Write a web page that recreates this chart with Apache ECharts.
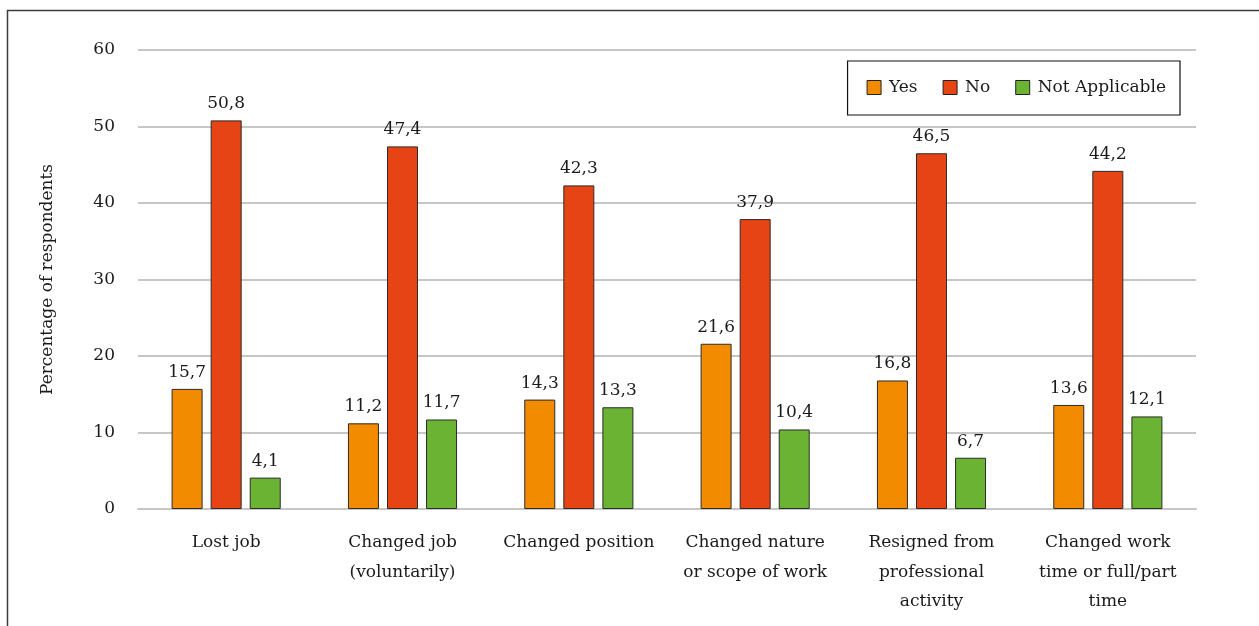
<!DOCTYPE html>
<html><head><meta charset="utf-8">
<script src="https://cdn.jsdelivr.net/npm/echarts@6/dist/echarts.min.js"></script>
<style>html,body{margin:0;padding:0;background:#fff}#c{width:1259px;height:626px}</style>
</head><body><div id="c"></div>
<script>
const categories = ["Lost job", "Changed job\n(voluntarily)", "Changed position", "Changed nature\nor scope of work", "Resigned from\nprofessional\nactivity", "Changed work\ntime or full/part\ntime"];
const yesValues = [15.7, 11.2, 14.3, 21.6, 16.8, 13.6];
const noValues = [50.8, 47.4, 42.3, 37.9, 46.5, 44.2];
const naValues = [4.1, 11.7, 13.3, 10.4, 6.7, 12.1];
const seriesNames = ["Yes", "No", "Not Applicable"];
const yTicks = [0, 10, 20, 30, 40, 50, 60];

const FONT = "DejaVu Serif";
const FS = 17;
const colors = ["#F28B00", "#E64415", "#6AB333"];
const chart = echarts.init(document.getElementById('c'), null, {renderer: 'canvas'});
function mk(name, data, i) {
  return {
    name: name, type: 'bar', data: data, barWidth: 31, barGap: '26%',
    itemStyle: {color: colors[i], borderColor: '#2b2b2b', borderWidth: 1},
    label: {show: true, position: 'top', distance: 8, color: '#1a1a1a', fontFamily: FONT, fontSize: FS,
      formatter: p => String(p.value).replace('.', ',')}
  };
}
chart.setOption({
  animation: false,
  textStyle: {fontFamily: FONT},
  graphic: [{type: 'rect', shape: {x: 7.5, y: 10.5, width: 1300, height: 700}, style: {fill: 'none', stroke: '#3c3c3c', lineWidth: 1.5}, silent: true}],
  grid: {left: 138, right: 63, top: 50, bottom: 117, containLabel: false},
  legend: {
    data: seriesNames, right: 79, top: 61, orient: 'horizontal',
    borderColor: '#111', borderWidth: 1.2, padding: [18, 14, 19, 19], itemGap: 25,
    itemWidth: 14, itemHeight: 14, icon: 'rect',
    itemStyle: {borderColor: '#222', borderWidth: 1},
    textStyle: {fontFamily: FONT, fontSize: FS, color: '#1a1a1a', padding: [0, 0, 0, 3]}
  },
  xAxis: {
    type: 'category', data: categories,
    axisLine: {lineStyle: {color: '#c6c6c6', width: 2}},
    axisTick: {show: false},
    axisLabel: {margin: 19, interval: 0, fontFamily: FONT, fontSize: FS, color: '#1a1a1a', lineHeight: 29.5, verticalAlign: 'top'}
  },
  yAxis: {
    type: 'value', min: yTicks[0], max: yTicks[yTicks.length - 1], interval: 10,
    name: 'Percentage of respondents', nameLocation: 'middle', nameGap: 82, nameRotate: 90,
    nameTextStyle: {fontFamily: FONT, fontSize: FS, color: '#1a1a1a'},
    axisLine: {show: false}, axisTick: {show: false},
    axisLabel: {margin: 23, fontFamily: FONT, fontSize: FS, color: '#1a1a1a'},
    splitLine: {lineStyle: {color: '#c6c6c6', width: 2}}
  },
  series: [mk(seriesNames[0], yesValues, 0), mk(seriesNames[1], noValues, 1), mk(seriesNames[2], naValues, 2)]
});
</script></body></html>
